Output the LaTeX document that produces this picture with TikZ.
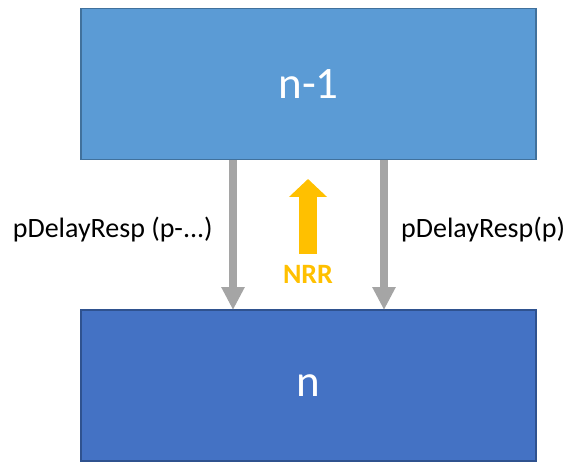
\documentclass[tikz,border=0pt]{standalone}
\usepackage{fontspec}
\setmainfont{Carlito}
\usetikzlibrary{arrows.meta,positioning}
\definecolor{lightblue}{HTML}{5B9BD5}
\definecolor{lightedge}{HTML}{41719C}
\definecolor{darkblue}{HTML}{4472C4}
\definecolor{darkedge}{HTML}{2F528F}
\definecolor{arrowgray}{HTML}{A5A5A5}
\definecolor{nrrorange}{HTML}{FFC000}
\tikzset{
  layer/.style={draw, line width=1.5pt, minimum width=455pt, minimum height=151pt, text=white, font=\fontsize{45}{52}\selectfont},
  resp/.style={arrowgray, line width=8pt, -{Triangle[width=22pt,length=23pt]}},
  label/.style={font=\fontsize{28}{32}\selectfont, inner sep=0pt}
}

\begin{document}
\begin{tikzpicture}[x=1pt,y=-1pt]
\useasboundingbox (0,0) rectangle (572,462);
\node[layer, fill=lightblue, draw=lightedge] (upper) at (308.5,84) {n-1};
\node[layer, fill=darkblue, draw=darkedge] (lower) at (308.5,385.5) {n};
\coordinate (a1) at (233,160);
\coordinate (b1) at (233,310);
\coordinate (a2) at (384,160);
\coordinate (b2) at (384,310);
\draw[resp] (a1) -- (b1);
\draw[resp] (a2) -- (b2);
\node[label, anchor=base east] (lresp) at (213,237) {pDelayResp (p-...)};
\node[label, anchor=base west] (rresp) at (401,237) {pDelayResp(p)};
\coordinate (n1) at (308,254);
\coordinate (n2) at (308,179);
\draw[nrrorange, line width=18pt, -{Triangle[width=37pt,length=18pt]}] (n1) -- (n2);
\node[nrrorange, font=\bfseries\fontsize{28}{32}\selectfont, inner sep=0pt] (nrr) at (308,274.5) {NRR};
\end{tikzpicture}
\end{document}
